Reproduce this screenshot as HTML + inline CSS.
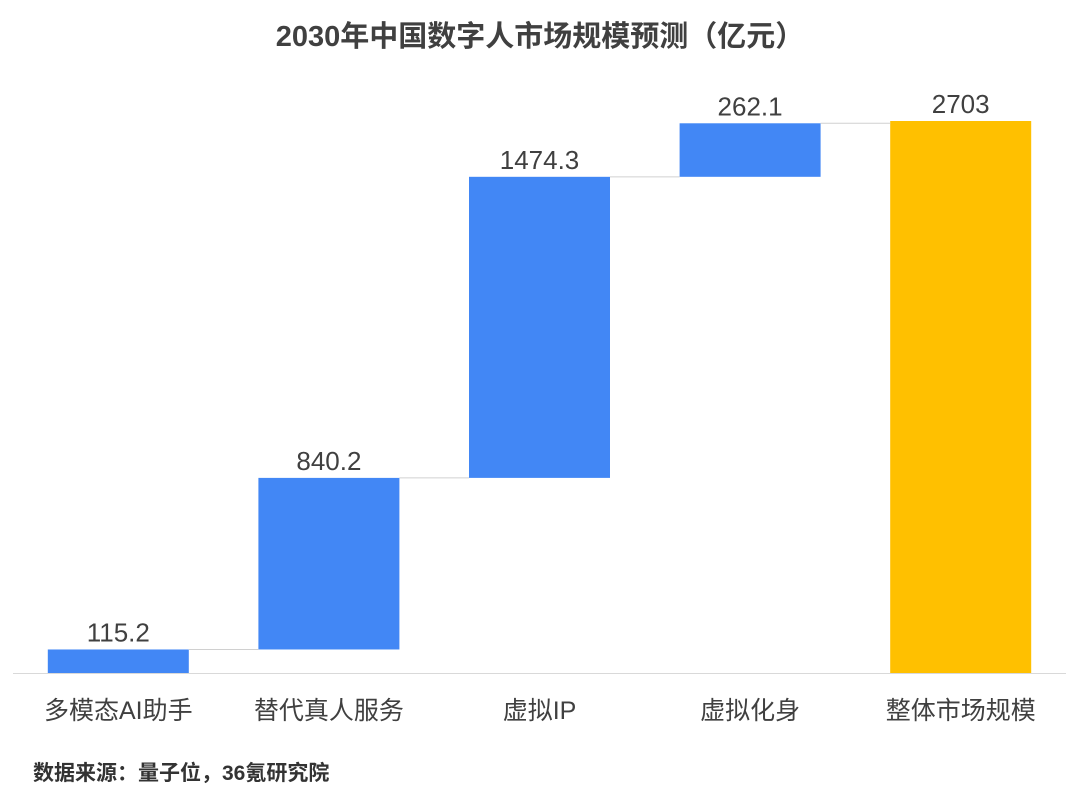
<!DOCTYPE html>
<html><head><meta charset="utf-8"><style>
html,body{margin:0;padding:0;background:#fff;}
body{width:1080px;height:797px;overflow:hidden;position:relative;font-family:"Liberation Sans","Noto Sans CJK SC",sans-serif;}
#title{position:absolute;left:0;width:1080px;top:13px;text-align:center;font-size:29px;font-weight:bold;color:#404040;}
#source{position:absolute;left:33px;top:757px;font-size:21px;font-weight:bold;color:#333;}
svg{position:absolute;left:0;top:0;}
</style></head><body>
<div id="title">2030年中国数字人市场规模预测（亿元）</div>
<svg id="chart" width="1080" height="797"></svg>
<div id="source">数据来源：量子位，36氪研究院</div>
<script>
const categories = ["多模态AI助手","替代真人服务","虚拟IP","虚拟化身","整体市场规模"];
const values = [115.2, 840.2, 1474.3, 262.1, 2703];
const valueLabels = ["115.2","840.2","1474.3","262.1","2703"];
const isTotal = [false,false,false,false,true];

const NS="http://www.w3.org/2000/svg";
const svg=document.getElementById('chart');
const plotLeft=13, plotRight=1066, baseY=673, topY=121, maxV=2703;
const band=(plotRight-plotLeft)/categories.length, barW=141;
const y=v=>baseY-(v/maxV)*(baseY-topY);
const xc=i=>plotLeft+band*(i+0.5);
function mk(t,a){const e=document.createElementNS(NS,t);for(const k in a)e.setAttribute(k,a[k]);svg.appendChild(e);return e;}

let cum=0; const tops=[];
categories.forEach((c,i)=>{
  let start,end;
  if(isTotal[i]){start=0;end=values[i];}else{start=cum;end=cum+values[i];cum=end;}
  tops.push(end);
  const r=mk('rect',{x:xc(i)-barW/2,y:y(end),width:barW,height:y(start)-y(end),fill:isTotal[i]?'#FFC000':'#4287F5'});
  
  
  const t=mk('text',{x:xc(i),y:y(end)-8,'text-anchor':'middle','font-size':26,fill:'#404040'});
  t.textContent=valueLabels[i];
  
  
  const cl=mk('text',{x:xc(i),y:719,'text-anchor':'middle','font-size':25,fill:'#404040'});
  cl.textContent=c;
  
  
});
for(let i=0;i<categories.length-1;i++){
  const l=mk('line',{x1:xc(i)+barW/2,x2:xc(i+1)-barW/2,y1:y(tops[i]),y2:y(tops[i]),stroke:'#d0d0d0','stroke-width':1});
  
  
}
const ax=mk('line',{x1:plotLeft,x2:plotRight,y1:baseY+0.5,y2:baseY+0.5,stroke:'#d9d9d9','stroke-width':1});


</script>
</body></html>
